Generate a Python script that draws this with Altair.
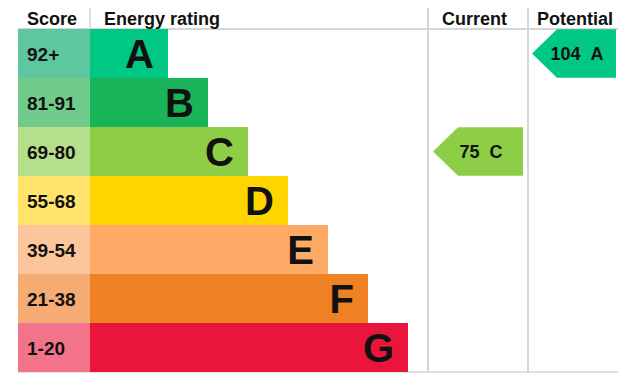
import altair as alt
import pandas as pd

# ---------------- data ----------------
bands = ["A", "B", "C", "D", "E", "F", "G"]
score_ranges = ["92+", "81-91", "69-80", "55-68", "39-54", "21-38", "1-20"]
band_min = [92, 81, 69, 55, 39, 21, 1]
band_colors = ["#00c781", "#19b459", "#8dce46", "#ffd500", "#fcaa65", "#ef8023", "#e9153b"]
score_colors = ["#5fc7a0", "#70cb8a", "#b6df8c", "#ffe36b", "#fdc59c", "#f4ab74", "#f2738a"]
headers = ["Score", "Energy rating", "Current", "Potential"]
current_score = 75
potential_score = 104

# ---------------- layout ----------------
W, H = 610, 369
ROW_TOP_P, ROW_BOT_P = 21, 364
ROW = (ROW_BOT_P - ROW_TOP_P) / 7.0
Y_TOP = -ROW_TOP_P / ROW
Y_BOT = (H - ROW_TOP_P) / ROW
SCORE_X0, BAR_X0, BAR_W0, BAR_STEP = 18, 90, 78, 40
CUR_X0, POT_X0, RIGHT = 428, 528, 618
FONT = "Liberation Sans"
GRID = "#d6d6d6"
TXT = "#111111"


def band_of(score):
    for b, m in zip(bands, band_min):
        if score >= m:
            return b
    return bands[-1]


rows = pd.DataFrame({
    "band": bands,
    "range": score_ranges,
    "fill": band_colors,
    "sfill": score_colors,
})
rows["i"] = range(len(bands))
rows["top"] = rows["i"]
rows["bot"] = rows["i"] + 1
rows["mid"] = rows["i"] + 0.5
rows["x0"] = BAR_X0
rows["s0"] = SCORE_X0
rows["end"] = BAR_X0 + BAR_W0 + BAR_STEP * rows["i"]
rows["letter_x"] = rows["end"] - 14
rows["label_x"] = SCORE_X0 + 9

xs = alt.Scale(domain=[8, 8 + W])
ys = alt.Scale(domain=[Y_TOP, Y_BOT], reverse=True)
X = lambda f: alt.X(f, type="quantitative", scale=xs, axis=None)
Y = lambda f: alt.Y(f, type="quantitative", scale=ys, axis=None)

# grid lines
lines = pd.DataFrame([
    {"x": SCORE_X0, "x2": RIGHT, "y": 0, "y2": 0, "w": 2},
    {"x": SCORE_X0, "x2": RIGHT, "y": 7, "y2": 7, "w": 1.5},
    {"x": CUR_X0, "x2": CUR_X0, "y": Y_TOP, "y2": 7, "w": 2},
    {"x": POT_X0, "x2": POT_X0, "y": Y_TOP, "y2": 7, "w": 2},
    {"x": BAR_X0, "x2": BAR_X0, "y": Y_TOP, "y2": 0, "w": 1.5},
])
grid = alt.Chart(lines).mark_rule(color=GRID).encode(
    x=X("x"), x2="x2", y=Y("y"), y2="y2",
    strokeWidth=alt.StrokeWidth("w:Q", scale=None),
)

score_cells = alt.Chart(rows).mark_rect().encode(
    x=X("s0"), x2="x0", y=Y("top"), y2="bot",
    fill=alt.Fill("sfill:N", scale=None),
)
bars = alt.Chart(rows).mark_rect().encode(
    x=X("x0"), x2="end", y=Y("top"), y2="bot",
    fill=alt.Fill("fill:N", scale=None),
)
score_text = alt.Chart(rows).mark_text(
    align="left", baseline="alphabetic", dy=7, font=FONT, fontWeight="bold",
    fontSize=19, color=TXT,
).encode(x=X("label_x"), y=Y("mid"), text="range:N")
letters = alt.Chart(rows).mark_text(
    align="right", baseline="alphabetic", dy=14, font=FONT, fontWeight="bold",
    fontSize=40, color=TXT,
).encode(x=X("letter_x"), y=Y("mid"), text="band:N")

hdr = pd.DataFrame({"text": headers, "x": [27, 104, 442, 537]})
hdr["y"] = -4.5 / ROW
header_text = alt.Chart(hdr).mark_text(
    align="left", baseline="alphabetic", font=FONT, fontWeight="bold",
    fontSize=18, color=TXT,
).encode(x=X("x"), y=Y("y"), text="text:N")


# arrows
def arrow_layer(score, x_left, width):
    b = band_of(score)
    i = bands.index(b)
    d = pd.DataFrame({
        "cx": [x_left + width / 2],
        "tx": [x_left + width / 2 + 3],
        "mid": [i + 0.5],
        "fill": [band_colors[i]],
        "label": [f"{score}\u00a0\u00a0{b}"],
    })
    hh = (ROW - 0.5) / width
    tip = -1 + 50 / width
    shape = (f"M-1,0 L{tip:.4f},{-hh:.4f} L1,{-hh:.4f} "
             f"L1,{hh:.4f} L{tip:.4f},{hh:.4f} Z")
    pts = alt.Chart(d).mark_point(
        shape=shape, size=width * width, filled=True, opacity=1, strokeWidth=0,
    ).encode(x=X("cx"), y=Y("mid"), fill=alt.Fill("fill:N", scale=None))
    txt = alt.Chart(d).mark_text(
        align="center", baseline="alphabetic", dy=6.5, font=FONT,
        fontWeight="bold", fontSize=18, color=TXT,
    ).encode(x=X("tx"), y=Y("mid"), text="label:N")
    return pts + txt


cur = arrow_layer(current_score, CUR_X0 + 5, 90)
pot = arrow_layer(potential_score, POT_X0 + 4, 84)

chart = alt.layer(
    grid, score_cells, bars, score_text, letters, header_text, cur, pot
).properties(
    width=W, height=H, autosize="none", padding=0,
).configure_view(stroke=None)

chart.save("out.html", embed_options={"renderer": "svg", "actions": False})
